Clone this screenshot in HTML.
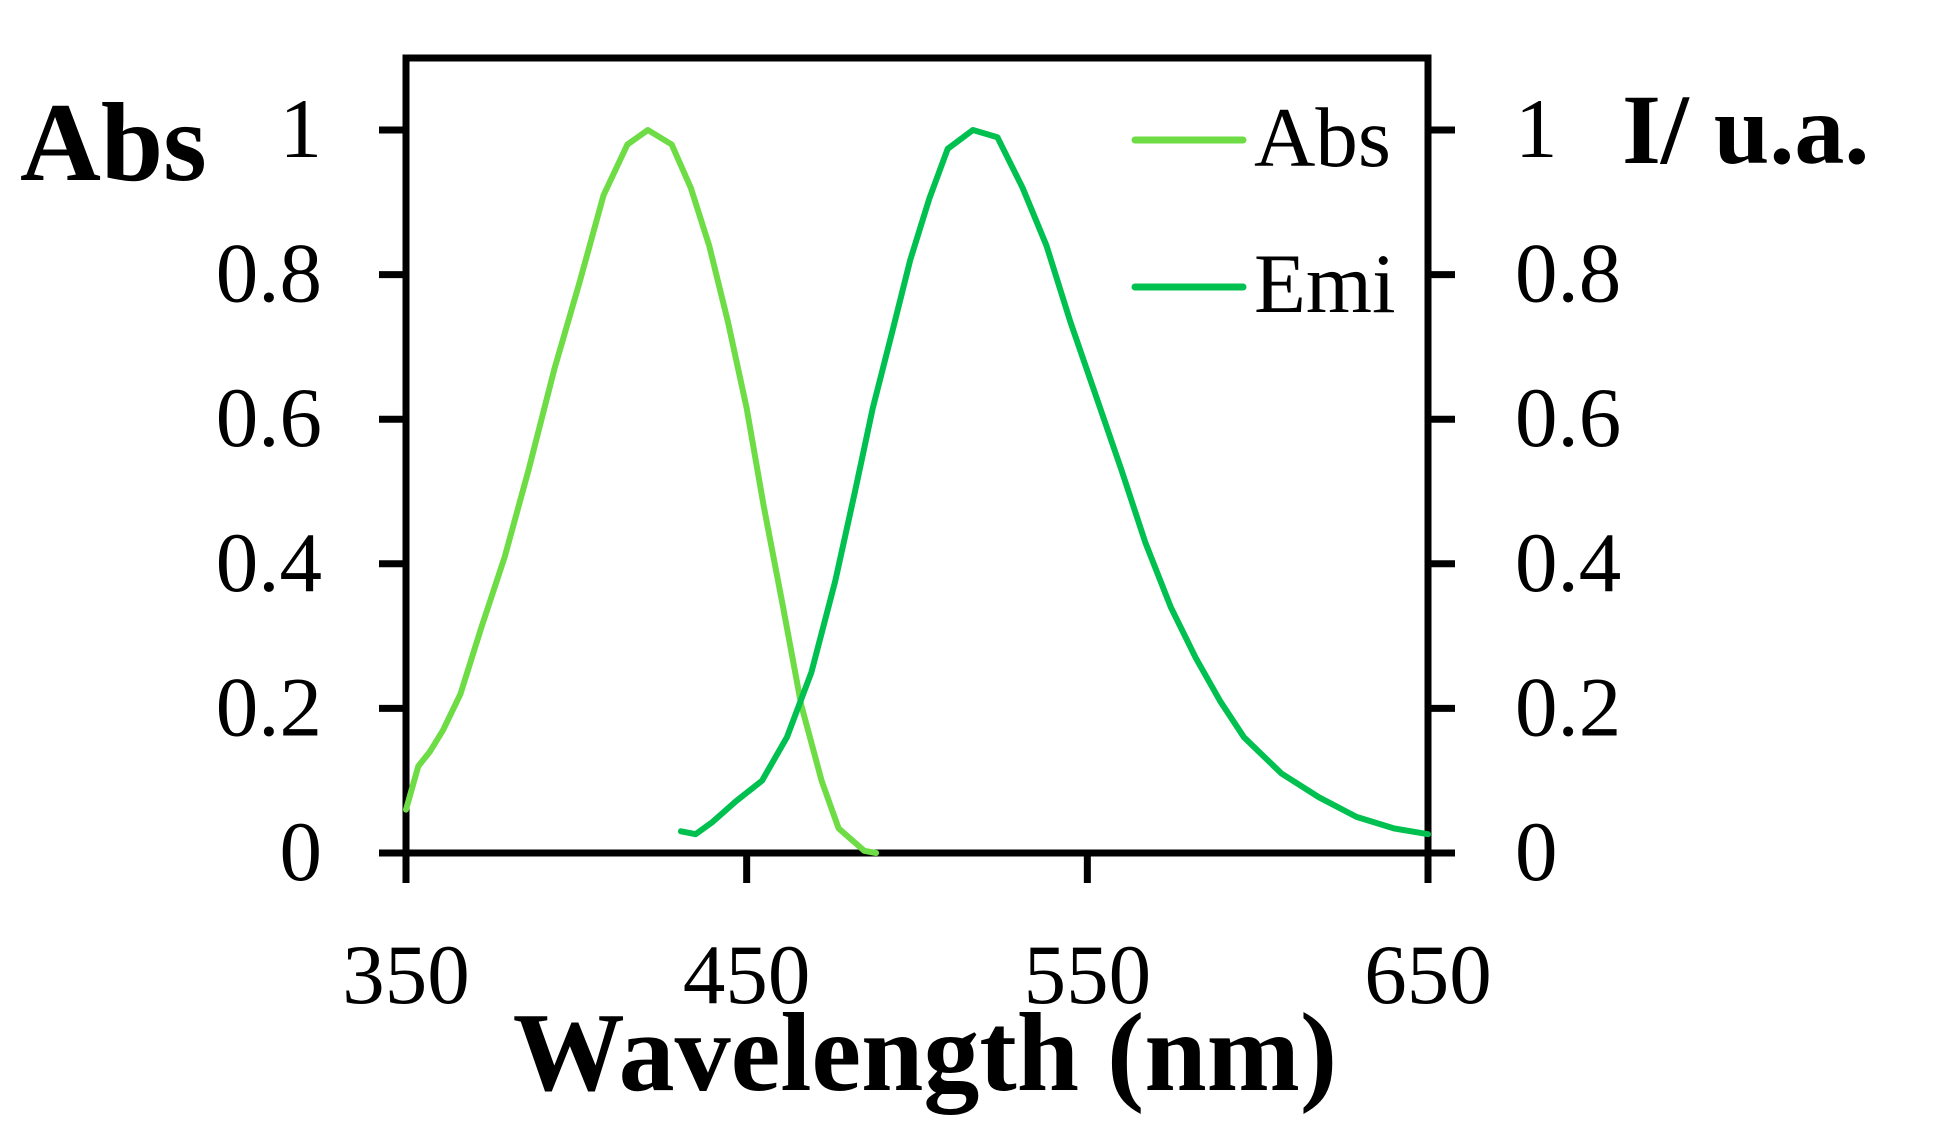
<!DOCTYPE html>
<html><head><meta charset="utf-8"><style>
html,body{margin:0;padding:0;background:#fff;}
svg{display:block;}
text{font-family:"Liberation Serif",serif;fill:#000;}
</style></head><body>
<svg id="chart" width="1935" height="1132" viewBox="0 0 1935 1132" xmlns="http://www.w3.org/2000/svg">
<g id="axes"></g>
<g id="series"></g>
<text x="20" y="180" font-size="112" font-weight="bold">Abs</text>
<text x="1622" y="163" font-size="100" font-weight="bold">I/ u.a.</text>
<text x="925" y="1090" font-size="112" font-weight="bold" text-anchor="middle">Wavelength (nm)</text>
<g>
<line x1="1135" y1="140" x2="1243" y2="140" stroke="#6ddc45" stroke-width="7" stroke-linecap="round"/>
<text x="1254" y="166" font-size="85">Abs</text>
<line x1="1135" y1="287" x2="1243" y2="287" stroke="#00c050" stroke-width="7" stroke-linecap="round"/>
<text x="1254" y="312" font-size="85">Emi</text>
</g>
</svg>
<script>
const xTicks = [350, 450, 550, 650];
const yTicks = [0, 0.2, 0.4, 0.6, 0.8, 1];
const yTickLabels = ["0", "0.2", "0.4", "0.6", "0.8", "1"];
const absX = [350,353.6,357,360.9,366,372,379,386,393.6,401,408,415,421,428,433.6,439,444.5,450,455,460.7,466,472,477,484.5,488];
const absY = [0.06,0.12,0.14,0.17,0.22,0.31,0.41,0.53,0.67,0.79,0.91,0.98,1.0,0.98,0.92,0.84,0.735,0.615,0.48,0.34,0.205,0.10,0.034,0.003,0];
const emiX = [430.7,435,440,447,454.5,461.8,469,476,481.8,487,492.7,498,503.6,509,516.4,523.6,531,538,545,552.7,560,567,574.5,581.8,589,596,607,618,629,640,650];
const emiY = [0.03,0.026,0.043,0.072,0.10,0.16,0.25,0.376,0.50,0.615,0.72,0.82,0.905,0.974,1.0,0.99,0.92,0.84,0.735,0.63,0.53,0.43,0.34,0.27,0.21,0.16,0.11,0.077,0.05,0.034,0.026];

const X0=406, X1=1428, Y0=853, Y1=130, TOP=58;
const xs = v => X0 + (v-350)/(650-350)*(X1-X0);
const ys = v => Y0 - v*(Y0-Y1);
const NS="http://www.w3.org/2000/svg";
function mk(tag, attrs, parent){const e=document.createElementNS(NS,tag);for(const k in attrs)e.setAttribute(k,attrs[k]);parent.appendChild(e);return e;}
const axes=document.getElementById('axes');
const frame=mk('rect',{x:X0,y:TOP,width:X1-X0,height:Y0-TOP,fill:'none',stroke:'#000','stroke-width':7},axes);


const xl=mk('line',{x1:X0-27,y1:Y0,x2:X1+27,y2:Y0,stroke:'#000','stroke-width':7},axes);


xTicks.forEach(t=>{
  const l=mk('line',{x1:xs(t),y1:Y0,x2:xs(t),y2:Y0+30,stroke:'#000','stroke-width':7},axes);
  
  
  const tx=mk('text',{x:xs(t),y:1003,'font-size':85,'text-anchor':'middle'},axes);
  tx.textContent=t;
  
  
});
yTicks.forEach((t,i)=>{
  const l=mk('line',{x1:X0-27,y1:ys(t),x2:X0,y2:ys(t),stroke:'#000','stroke-width':7},axes);
  
  
  const r=mk('line',{x1:X1,y1:ys(t),x2:X1+27,y2:ys(t),stroke:'#000','stroke-width':7},axes);
  
  
  const a=mk('text',{x:322,y:ys(t)+27,'font-size':85,'text-anchor':'end'},axes);
  a.textContent=yTickLabels[i];
  
  
  const b=mk('text',{x:1515,y:ys(t)+27,'font-size':85},axes);
  b.textContent=yTickLabels[i];
  
  
});
const series=document.getElementById('series');
function line(xa,ya,color,name){
  const d=xa.map((x,i)=>(i?'L':'M')+xs(x).toFixed(1)+','+ys(ya[i]).toFixed(1)).join(' ');
  const p=mk('path',{d:d,fill:'none',stroke:color,'stroke-width':6,'stroke-linejoin':'round','stroke-linecap':'round'},series);
  
  
}
line(absX,absY,'#6ddc45','abs-series-line');
line(emiX,emiY,'#00c050','emi-series-line');
</script>
</body></html>
